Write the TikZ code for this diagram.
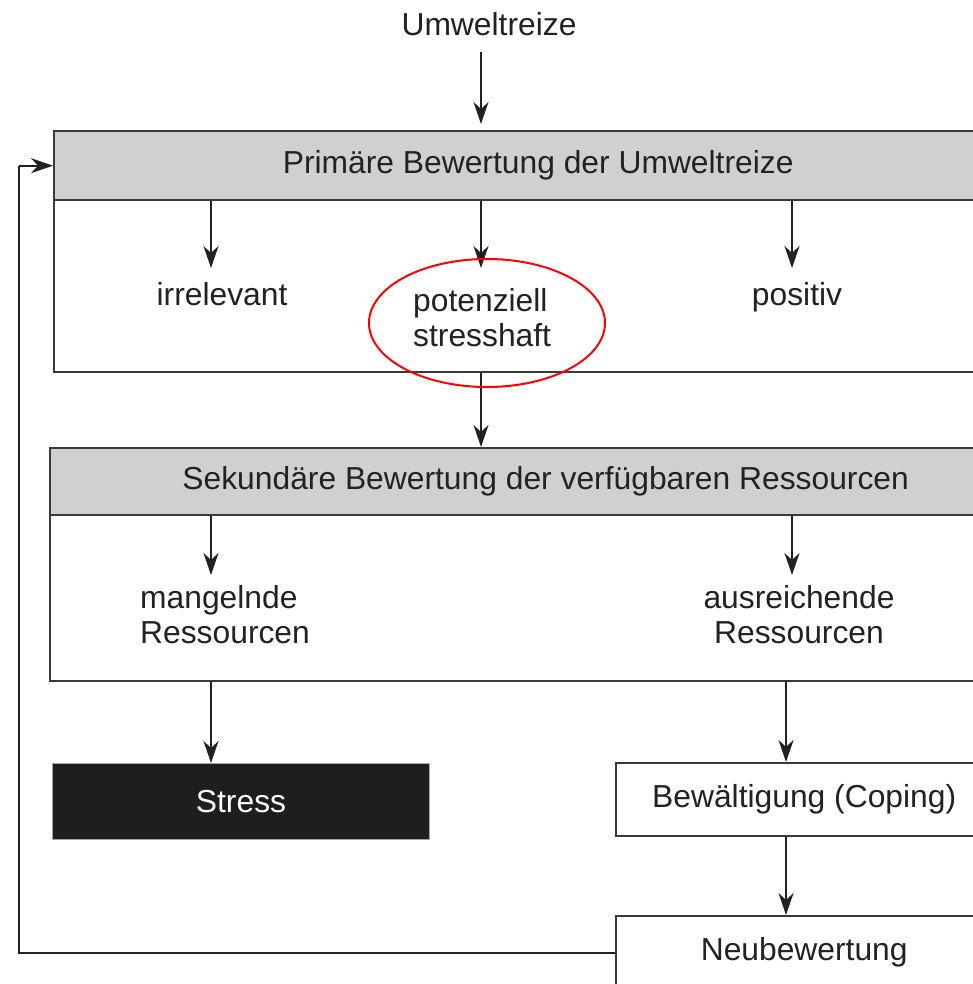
\documentclass[tikz,border=0pt]{standalone}
\usepackage{fontspec}
\setmainfont{Liberation Sans}
\usetikzlibrary{arrows.meta,calc}
\definecolor{ink}{HTML}{222222}
\definecolor{boxline}{HTML}{3A3A3A}
\definecolor{headfill}{HTML}{D0D0D0}
\definecolor{stressfill}{HTML}{1E1E1E}
\begin{document}
\begin{tikzpicture}[x=1pt,y=-1pt,
  txt/.style={font=\fontsize{31.8}{36}\selectfont, text=ink, inner sep=0pt},
  boxbase/.style={draw=boxline, line width=2.4pt, inner sep=0pt, anchor=north west, font=\fontsize{31.8}{36}\selectfont, text=ink},
  headbox/.style={boxbase, fill=headfill},
  plainbox/.style={boxbase, fill=white},
  darkbox/.style={draw=gray!70, line width=1pt, fill=stressfill, inner sep=0pt, anchor=north west, font=\fontsize{31.8}{36}\selectfont, text=white},
  arr/.style={line width=2.2pt, draw=ink, -{Stealth[length=22pt,width=15pt,inset=7pt]}},
  link/.style={line width=2.2pt, draw=ink}
]
\useasboundingbox (0,0) rectangle (973,984);
\clip (0,0) rectangle (973,984);

% top label
\node[txt, anchor=base] (umw) at (489,36) {Umweltreize};

% primary appraisal
\node[plainbox, minimum width=968pt, minimum height=172pt] (pbody) at (53,199) {};
\node[headbox, minimum width=968pt, minimum height=69pt] (phead) at (53,130) {Primäre Bewertung der Umweltreize};

\node[txt, anchor=base] (irr) at (222,305) {irrelevant};
\node[txt, anchor=base west] (pot1) at (413,311) {potenziell};
\node[txt, anchor=base west] (pot2) at (413,346) {stresshaft};
\node[txt, anchor=base] (pos) at (797,305) {positiv};

\coordinate (xA) at (211,268);
\coordinate (xB) at (481,268);
\coordinate (xC) at (792,268);
\coordinate (yT) at (0,52);

% secondary appraisal
\node[plainbox, minimum width=991pt, minimum height=166pt] (sbody) at (49,514) {};
\node[headbox, minimum width=991pt, minimum height=67pt] (shead) at (49,447) {Sekundäre Bewertung der verfügbaren Ressourcen};

\node[txt, anchor=base west] (man1) at (140,608) {mangelnde};
\node[txt, anchor=base west] (man2) at (140,643) {Ressourcen};
\node[txt, anchor=base] (aus1) at (799,608) {ausreichende};
\node[txt, anchor=base] (aus2) at (799,643) {Ressourcen};

\coordinate (yD) at (0,575);
\coordinate (xD) at (211,0);
\coordinate (xE) at (792,0);
\coordinate (xF) at (786,0);

% outcome boxes
\node[darkbox, minimum width=377pt, minimum height=76pt] (stress) at (52,763) {Stress};
\node[plainbox, minimum width=376pt, minimum height=73pt] (cope) at (615,762) {Bewältigung (Coping)};
\node[plainbox, minimum width=376pt, minimum height=73pt] (neu) at (615,915) {Neubewertung};

\coordinate (xL) at (19,0);

% arrows
\draw[arr, shorten >=6pt] (yT -| xB) -- (phead.north -| xB);
\draw[arr] (phead.south -| xA) -- (xA);
\draw[arr] (phead.south -| xB) -- (xB);
\draw[arr] (phead.south -| xC) -- (xC);
\draw[arr] (pbody.south -| xB) -- (shead.north -| xB);
\draw[arr] (shead.south -| xD) -- (yD -| xD);
\draw[arr] (shead.south -| xE) -- (yD -| xE);
\draw[arr] (sbody.south -| xD) -- (stress.north -| xD);
\draw[arr] (sbody.south -| xF) -- (cope.north -| xF);
\draw[arr] (cope.south -| xF) -- (neu.north -| xF);

% feedback loop
\draw[link] (neu.west) -- (neu.west -| xL) -- (phead.west -| xL);
\draw[arr] (phead.west -| xL) -- (phead.west);

% red highlight ellipse
\coordinate (ellc) at (487,323);
\draw[red, line width=2pt] (ellc) ellipse [x radius=118, y radius=64];
\end{tikzpicture}
\end{document}
